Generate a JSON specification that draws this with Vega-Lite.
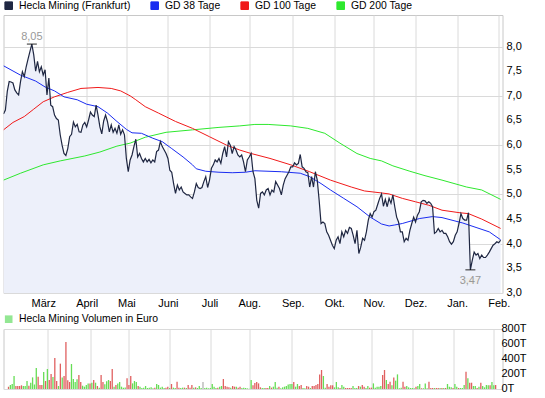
{
  "$schema": "https://vega.github.io/schema/vega-lite/v6.json",
  "padding": {"left": 2.5, "top": 0, "right": 0, "bottom": 0},
  "autosize": {"type": "pad"},
  "bounds": "flush",
  "spacing": 36,
  "datasets": {
    "price": [{"i":-1,"v":6.63},{"i":0,"v":6.71},{"i":1,"v":7.09},{"i":2,"v":7.29},{"i":3,"v":7.28},{"i":4,"v":7.26},{"i":5,"v":7.12},{"i":6,"v":7.06},{"i":7,"v":7.02},{"i":8,"v":7.29},{"i":9,"v":7.49},{"i":10,"v":7.39},{"i":11,"v":7.59},{"i":12,"v":7.75},{"i":13,"v":7.9},{"i":14,"v":8.05},{"i":15,"v":7.83},{"i":16,"v":7.5},{"i":17,"v":7.7},{"i":18,"v":7.49},{"i":19,"v":7.59},{"i":20,"v":7.42},{"i":21,"v":7.53},{"i":22,"v":7.02},{"i":23,"v":7.36},{"i":24,"v":6.81},{"i":25,"v":6.78},{"i":26,"v":6.61},{"i":27,"v":6.54},{"i":28,"v":6.51},{"i":29,"v":6.21},{"i":30,"v":6.0},{"i":31,"v":5.83},{"i":32,"v":5.79},{"i":33,"v":5.93},{"i":34,"v":6.17},{"i":35,"v":6.22},{"i":36,"v":6.47},{"i":37,"v":6.37},{"i":38,"v":6.42},{"i":39,"v":6.27},{"i":40,"v":6.26},{"i":41,"v":6.41},{"i":42,"v":6.46},{"i":43,"v":6.37},{"i":44,"v":6.51},{"i":45,"v":6.67},{"i":46,"v":6.61},{"i":47,"v":6.58},{"i":48,"v":6.81},{"i":49,"v":6.61},{"i":50,"v":6.37},{"i":51,"v":6.23},{"i":52,"v":6.49},{"i":53,"v":6.61},{"i":54,"v":6.48},{"i":55,"v":6.27},{"i":56,"v":6.41},{"i":57,"v":6.26},{"i":58,"v":6.34},{"i":59,"v":6.24},{"i":60,"v":6.41},{"i":61,"v":6.22},{"i":62,"v":6.31},{"i":63,"v":6.21},{"i":64,"v":5.73},{"i":65,"v":5.46},{"i":66,"v":5.7},{"i":67,"v":5.8},{"i":68,"v":5.97},{"i":69,"v":6.12},{"i":70,"v":5.76},{"i":71,"v":5.83},{"i":72,"v":5.73},{"i":73,"v":5.66},{"i":74,"v":5.73},{"i":75,"v":5.66},{"i":76,"v":5.71},{"i":77,"v":5.64},{"i":78,"v":5.7},{"i":79,"v":5.66},{"i":80,"v":5.87},{"i":81,"v":5.9},{"i":82,"v":6.07},{"i":83,"v":5.97},{"i":84,"v":5.9},{"i":85,"v":5.83},{"i":86,"v":5.73},{"i":87,"v":5.49},{"i":88,"v":5.45},{"i":89,"v":5.22},{"i":90,"v":5.02},{"i":91,"v":5.19},{"i":92,"v":5.09},{"i":93,"v":5.15},{"i":94,"v":5.05},{"i":95,"v":5.02},{"i":96,"v":4.99},{"i":97,"v":4.99},{"i":98,"v":4.95},{"i":99,"v":4.92},{"i":100,"v":5.05},{"i":101,"v":5.22},{"i":102,"v":5.14},{"i":103,"v":5.12},{"i":104,"v":5.14},{"i":105,"v":5.26},{"i":106,"v":5.36},{"i":107,"v":5.14},{"i":108,"v":5.29},{"i":109,"v":5.53},{"i":110,"v":5.6},{"i":111,"v":5.7},{"i":112,"v":5.66},{"i":113,"v":5.73},{"i":114,"v":5.63},{"i":115,"v":5.83},{"i":116,"v":5.97},{"i":117,"v":5.76},{"i":118,"v":6.07},{"i":119,"v":6.0},{"i":120,"v":5.83},{"i":121,"v":5.97},{"i":122,"v":5.9},{"i":123,"v":5.8},{"i":124,"v":5.76},{"i":125,"v":5.8},{"i":126,"v":5.66},{"i":127,"v":5.46},{"i":128,"v":5.7},{"i":129,"v":5.76},{"i":130,"v":5.83},{"i":131,"v":5.46},{"i":132,"v":5.32},{"i":133,"v":4.88},{"i":134,"v":4.72},{"i":135,"v":5.02},{"i":136,"v":5.05},{"i":137,"v":4.99},{"i":138,"v":5.09},{"i":139,"v":5.12},{"i":140,"v":4.99},{"i":141,"v":5.09},{"i":142,"v":5.05},{"i":143,"v":5.26},{"i":144,"v":5.19},{"i":145,"v":5.12},{"i":146,"v":4.99},{"i":147,"v":5.19},{"i":148,"v":5.32},{"i":149,"v":5.39},{"i":150,"v":5.46},{"i":151,"v":5.56},{"i":152,"v":5.56},{"i":153,"v":5.64},{"i":154,"v":5.6},{"i":155,"v":5.63},{"i":156,"v":5.81},{"i":157,"v":5.56},{"i":158,"v":5.53},{"i":159,"v":5.46},{"i":160,"v":5.44},{"i":161,"v":5.15},{"i":162,"v":5.36},{"i":163,"v":5.15},{"i":164,"v":5.46},{"i":165,"v":5.29},{"i":166,"v":4.88},{"i":167,"v":4.41},{"i":168,"v":4.44},{"i":169,"v":4.41},{"i":170,"v":4.24},{"i":171,"v":4.17},{"i":172,"v":4.07},{"i":173,"v":3.97},{"i":174,"v":3.9},{"i":175,"v":4.07},{"i":176,"v":4.14},{"i":177,"v":4.0},{"i":178,"v":4.24},{"i":179,"v":4.14},{"i":180,"v":4.27},{"i":181,"v":4.21},{"i":182,"v":4.33},{"i":183,"v":4.31},{"i":184,"v":4.17},{"i":185,"v":4.0},{"i":186,"v":4.27},{"i":187,"v":3.8},{"i":188,"v":3.93},{"i":189,"v":4.11},{"i":190,"v":4.07},{"i":191,"v":4.24},{"i":192,"v":4.48},{"i":193,"v":4.61},{"i":194,"v":4.54},{"i":195,"v":4.65},{"i":196,"v":4.68},{"i":197,"v":4.8},{"i":198,"v":4.92},{"i":199,"v":5.01},{"i":200,"v":4.76},{"i":201,"v":4.9},{"i":202,"v":4.75},{"i":203,"v":4.92},{"i":204,"v":4.82},{"i":205,"v":4.99},{"i":206,"v":4.75},{"i":207,"v":4.54},{"i":208,"v":4.44},{"i":209,"v":4.24},{"i":210,"v":4.24},{"i":211,"v":4.04},{"i":212,"v":4.11},{"i":213,"v":4.07},{"i":214,"v":4.27},{"i":215,"v":4.41},{"i":216,"v":4.54},{"i":217,"v":4.44},{"i":218,"v":4.58},{"i":219,"v":4.65},{"i":220,"v":4.85},{"i":221,"v":4.88},{"i":222,"v":4.87},{"i":223,"v":4.82},{"i":224,"v":4.85},{"i":225,"v":4.82},{"i":226,"v":4.75},{"i":227,"v":4.21},{"i":228,"v":4.24},{"i":229,"v":4.31},{"i":230,"v":4.24},{"i":231,"v":4.27},{"i":232,"v":4.21},{"i":233,"v":4.21},{"i":234,"v":4.14},{"i":235,"v":4.04},{"i":236,"v":3.99},{"i":237,"v":4.04},{"i":238,"v":4.17},{"i":239,"v":4.24},{"i":240,"v":4.41},{"i":241,"v":4.61},{"i":242,"v":4.51},{"i":243,"v":4.48},{"i":244,"v":4.48},{"i":245,"v":4.63},{"i":246,"v":3.47},{"i":247,"v":3.66},{"i":248,"v":3.83},{"i":249,"v":3.77},{"i":250,"v":3.8},{"i":251,"v":3.7},{"i":252,"v":3.77},{"i":253,"v":3.72},{"i":254,"v":3.72},{"i":255,"v":3.77},{"i":256,"v":3.83},{"i":257,"v":3.9},{"i":258,"v":3.97},{"i":259,"v":4.0},{"i":260,"v":4.04},{"i":261,"v":4.02},{"i":262,"v":4.07}],
    "g38": [{"i":-1,"v":7.61},{"i":8,"v":7.42},{"i":16,"v":7.3},{"i":21,"v":7.18},{"i":26,"v":7.1},{"i":31,"v":6.98},{"i":38,"v":6.92},{"i":43,"v":6.83},{"i":49,"v":6.78},{"i":54,"v":6.65},{"i":59,"v":6.48},{"i":64,"v":6.32},{"i":67,"v":6.25},{"i":72,"v":6.24},{"i":78,"v":6.14},{"i":83,"v":6.07},{"i":88,"v":5.93},{"i":94,"v":5.76},{"i":99,"v":5.6},{"i":101,"v":5.52},{"i":106,"v":5.47},{"i":113,"v":5.45},{"i":120,"v":5.44},{"i":127,"v":5.45},{"i":132,"v":5.48},{"i":146,"v":5.46},{"i":156,"v":5.43},{"i":161,"v":5.36},{"i":167,"v":5.22},{"i":172,"v":5.09},{"i":179,"v":4.92},{"i":186,"v":4.75},{"i":193,"v":4.54},{"i":199,"v":4.4},{"i":203,"v":4.36},{"i":206,"v":4.38},{"i":210,"v":4.41},{"i":219,"v":4.51},{"i":226,"v":4.55},{"i":231,"v":4.53},{"i":242,"v":4.42},{"i":249,"v":4.33},{"i":256,"v":4.24},{"i":262,"v":4.08}],
    "g100": [{"i":-1,"v":6.31},{"i":4,"v":6.46},{"i":10,"v":6.58},{"i":15,"v":6.73},{"i":20,"v":6.88},{"i":26,"v":6.98},{"i":33,"v":7.07},{"i":40,"v":7.15},{"i":49,"v":7.17},{"i":56,"v":7.15},{"i":61,"v":7.1},{"i":66,"v":7.0},{"i":69,"v":6.92},{"i":74,"v":6.78},{"i":81,"v":6.65},{"i":90,"v":6.48},{"i":99,"v":6.34},{"i":108,"v":6.17},{"i":117,"v":6.0},{"i":124,"v":5.9},{"i":130,"v":5.83},{"i":140,"v":5.73},{"i":151,"v":5.6},{"i":161,"v":5.46},{"i":172,"v":5.29},{"i":183,"v":5.15},{"i":190,"v":5.07},{"i":199,"v":5.03},{"i":203,"v":5.01},{"i":210,"v":4.92},{"i":217,"v":4.85},{"i":224,"v":4.78},{"i":231,"v":4.68},{"i":240,"v":4.63},{"i":245,"v":4.61},{"i":252,"v":4.5},{"i":262,"v":4.31}],
    "g200": [{"i":-1,"v":5.29},{"i":8,"v":5.43},{"i":20,"v":5.6},{"i":29,"v":5.68},{"i":42,"v":5.78},{"i":50,"v":5.86},{"i":59,"v":5.98},{"i":66,"v":6.04},{"i":74,"v":6.16},{"i":85,"v":6.26},{"i":99,"v":6.31},{"i":113,"v":6.36},{"i":124,"v":6.39},{"i":132,"v":6.42},{"i":139,"v":6.42},{"i":151,"v":6.39},{"i":160,"v":6.34},{"i":169,"v":6.24},{"i":177,"v":6.04},{"i":186,"v":5.83},{"i":193,"v":5.73},{"i":199,"v":5.68},{"i":205,"v":5.58},{"i":214,"v":5.47},{"i":222,"v":5.38},{"i":231,"v":5.29},{"i":244,"v":5.15},{"i":252,"v":5.09},{"i":262,"v":4.9}],
    "vol": [{"i":-1,"q":31,"d":"r"},{"i":0,"q":53,"d":"g"},{"i":1,"q":67,"d":"g"},{"i":2,"q":173,"d":"g"},{"i":3,"q":40,"d":"r"},{"i":4,"q":40,"d":"r"},{"i":5,"q":40,"d":"r"},{"i":6,"q":49,"d":"r"},{"i":7,"q":40,"d":"g"},{"i":8,"q":40,"d":"g"},{"i":9,"q":107,"d":"g"},{"i":10,"q":44,"d":"r"},{"i":11,"q":84,"d":"g"},{"i":12,"q":155,"d":"g"},{"i":13,"q":60,"d":"g"},{"i":14,"q":280,"d":"g"},{"i":15,"q":164,"d":"r"},{"i":16,"q":53,"d":"r"},{"i":17,"q":53,"d":"r"},{"i":18,"q":227,"d":"g"},{"i":19,"q":107,"d":"r"},{"i":20,"q":267,"d":"g"},{"i":21,"q":120,"d":"r"},{"i":22,"q":200,"d":"r"},{"i":23,"q":160,"d":"g"},{"i":24,"q":413,"d":"r"},{"i":25,"q":107,"d":"r"},{"i":26,"q":40,"d":"g"},{"i":27,"q":338,"d":"r"},{"i":28,"q":155,"d":"g"},{"i":29,"q":173,"d":"r"},{"i":30,"q":627,"d":"r"},{"i":31,"q":116,"d":"r"},{"i":32,"q":93,"d":"r"},{"i":33,"q":333,"d":"g"},{"i":34,"q":133,"d":"g"},{"i":35,"q":93,"d":"g"},{"i":36,"q":129,"d":"g"},{"i":37,"q":187,"d":"r"},{"i":38,"q":93,"d":"r"},{"i":39,"q":44,"d":"g"},{"i":40,"q":31,"d":"g"},{"i":41,"q":53,"d":"g"},{"i":42,"q":75,"d":"g"},{"i":43,"q":75,"d":"r"},{"i":44,"q":84,"d":"g"},{"i":45,"q":120,"d":"r"},{"i":46,"q":84,"d":"g"},{"i":47,"q":40,"d":"r"},{"i":48,"q":18,"d":"g"},{"i":49,"q":187,"d":"r"},{"i":50,"q":93,"d":"r"},{"i":51,"q":62,"d":"g"},{"i":52,"q":102,"d":"g"},{"i":53,"q":120,"d":"g"},{"i":54,"q":107,"d":"r"},{"i":55,"q":267,"d":"r"},{"i":56,"q":31,"d":"g"},{"i":57,"q":53,"d":"r"},{"i":58,"q":75,"d":"g"},{"i":59,"q":93,"d":"g"},{"i":60,"q":31,"d":"g"},{"i":61,"q":18,"d":"g"},{"i":62,"q":20,"d":"g"},{"i":63,"q":142,"d":"r"},{"i":64,"q":53,"d":"r"},{"i":65,"q":173,"d":"r"},{"i":66,"q":75,"d":"g"},{"i":67,"q":107,"d":"g"},{"i":68,"q":93,"d":"g"},{"i":69,"q":40,"d":"r"},{"i":70,"q":31,"d":"g"},{"i":71,"q":13,"d":"g"},{"i":72,"q":18,"d":"g"},{"i":73,"q":40,"d":"g"},{"i":74,"q":13,"d":"g"},{"i":75,"q":18,"d":"g"},{"i":76,"q":22,"d":"g"},{"i":77,"q":9,"d":"g"},{"i":78,"q":18,"d":"r"},{"i":79,"q":67,"d":"g"},{"i":80,"q":53,"d":"g"},{"i":81,"q":18,"d":"g"},{"i":82,"q":31,"d":"g"},{"i":83,"q":13,"d":"g"},{"i":84,"q":18,"d":"r"},{"i":85,"q":31,"d":"r"},{"i":86,"q":13,"d":"g"},{"i":87,"q":67,"d":"r"},{"i":88,"q":18,"d":"g"},{"i":89,"q":13,"d":"g"},{"i":90,"q":98,"d":"r"},{"i":91,"q":18,"d":"r"},{"i":92,"q":13,"d":"g"},{"i":93,"q":18,"d":"g"},{"i":94,"q":18,"d":"r"},{"i":95,"q":13,"d":"g"},{"i":96,"q":53,"d":"r"},{"i":97,"q":18,"d":"r"},{"i":98,"q":53,"d":"r"},{"i":99,"q":18,"d":"g"},{"i":100,"q":22,"d":"r"},{"i":101,"q":13,"d":"g"},{"i":102,"q":40,"d":"g"},{"i":103,"q":13,"d":"g"},{"i":104,"q":93,"d":"f"},{"i":105,"q":13,"d":"g"},{"i":106,"q":18,"d":"g"},{"i":107,"q":9,"d":"g"},{"i":108,"q":13,"d":"g"},{"i":109,"q":67,"d":"g"},{"i":110,"q":31,"d":"g"},{"i":111,"q":13,"d":"g"},{"i":112,"q":18,"d":"r"},{"i":113,"q":31,"d":"g"},{"i":114,"q":40,"d":"g"},{"i":115,"q":133,"d":"r"},{"i":116,"q":40,"d":"r"},{"i":117,"q":31,"d":"r"},{"i":118,"q":22,"d":"r"},{"i":119,"q":18,"d":"g"},{"i":120,"q":40,"d":"r"},{"i":121,"q":31,"d":"r"},{"i":122,"q":31,"d":"g"},{"i":123,"q":18,"d":"r"},{"i":124,"q":31,"d":"r"},{"i":125,"q":13,"d":"g"},{"i":126,"q":18,"d":"g"},{"i":127,"q":13,"d":"g"},{"i":128,"q":8,"d":"g"},{"i":129,"q":5,"d":"g"},{"i":130,"q":120,"d":"g"},{"i":131,"q":49,"d":"r"},{"i":132,"q":80,"d":"r"},{"i":133,"q":93,"d":"r"},{"i":134,"q":75,"d":"r"},{"i":135,"q":22,"d":"r"},{"i":136,"q":13,"d":"g"},{"i":137,"q":13,"d":"g"},{"i":138,"q":13,"d":"r"},{"i":139,"q":13,"d":"r"},{"i":140,"q":40,"d":"g"},{"i":141,"q":18,"d":"r"},{"i":142,"q":31,"d":"g"},{"i":143,"q":93,"d":"g"},{"i":144,"q":18,"d":"g"},{"i":145,"q":31,"d":"r"},{"i":146,"q":9,"d":"g"},{"i":147,"q":22,"d":"g"},{"i":148,"q":31,"d":"g"},{"i":149,"q":40,"d":"g"},{"i":150,"q":60,"d":"g"},{"i":151,"q":67,"d":"g"},{"i":152,"q":67,"d":"g"},{"i":153,"q":93,"d":"r"},{"i":154,"q":31,"d":"g"},{"i":155,"q":67,"d":"g"},{"i":156,"q":40,"d":"r"},{"i":157,"q":53,"d":"r"},{"i":158,"q":13,"d":"g"},{"i":159,"q":10,"d":"g"},{"i":160,"q":40,"d":"r"},{"i":161,"q":31,"d":"r"},{"i":162,"q":13,"d":"g"},{"i":163,"q":40,"d":"r"},{"i":164,"q":40,"d":"r"},{"i":165,"q":53,"d":"r"},{"i":166,"q":67,"d":"r"},{"i":167,"q":195,"d":"r"},{"i":168,"q":253,"d":"r"},{"i":169,"q":173,"d":"g"},{"i":170,"q":18,"d":"g"},{"i":171,"q":67,"d":"r"},{"i":172,"q":31,"d":"r"},{"i":173,"q":49,"d":"r"},{"i":174,"q":49,"d":"r"},{"i":175,"q":22,"d":"g"},{"i":176,"q":93,"d":"g"},{"i":177,"q":22,"d":"g"},{"i":178,"q":13,"d":"r"},{"i":179,"q":53,"d":"g"},{"i":180,"q":31,"d":"g"},{"i":181,"q":13,"d":"r"},{"i":182,"q":13,"d":"r"},{"i":183,"q":13,"d":"r"},{"i":184,"q":13,"d":"r"},{"i":185,"q":40,"d":"g"},{"i":186,"q":13,"d":"g"},{"i":187,"q":13,"d":"g"},{"i":188,"q":40,"d":"r"},{"i":189,"q":31,"d":"g"},{"i":190,"q":53,"d":"r"},{"i":191,"q":31,"d":"r"},{"i":192,"q":13,"d":"g"},{"i":193,"q":40,"d":"g"},{"i":194,"q":18,"d":"r"},{"i":195,"q":18,"d":"r"},{"i":196,"q":75,"d":"g"},{"i":197,"q":18,"d":"g"},{"i":198,"q":31,"d":"g"},{"i":199,"q":31,"d":"g"},{"i":200,"q":40,"d":"g"},{"i":201,"q":187,"d":"r"},{"i":202,"q":253,"d":"r"},{"i":203,"q":120,"d":"g"},{"i":204,"q":67,"d":"r"},{"i":205,"q":98,"d":"r"},{"i":206,"q":49,"d":"g"},{"i":207,"q":155,"d":"r"},{"i":208,"q":111,"d":"g"},{"i":209,"q":195,"d":"g"},{"i":210,"q":10,"d":"g"},{"i":211,"q":18,"d":"g"},{"i":212,"q":98,"d":"r"},{"i":213,"q":31,"d":"r"},{"i":214,"q":40,"d":"g"},{"i":215,"q":22,"d":"g"},{"i":216,"q":13,"d":"g"},{"i":217,"q":13,"d":"g"},{"i":218,"q":10,"d":"g"},{"i":219,"q":31,"d":"r"},{"i":220,"q":40,"d":"g"},{"i":221,"q":67,"d":"g"},{"i":222,"q":10,"d":"r"},{"i":223,"q":10,"d":"g"},{"i":224,"q":75,"d":"g"},{"i":225,"q":10,"d":"g"},{"i":226,"q":98,"d":"r"},{"i":227,"q":13,"d":"r"},{"i":228,"q":13,"d":"r"},{"i":229,"q":13,"d":"g"},{"i":230,"q":13,"d":"r"},{"i":231,"q":13,"d":"r"},{"i":232,"q":13,"d":"g"},{"i":233,"q":13,"d":"r"},{"i":234,"q":13,"d":"g"},{"i":235,"q":13,"d":"r"},{"i":236,"q":67,"d":"g"},{"i":237,"q":31,"d":"g"},{"i":238,"q":22,"d":"g"},{"i":239,"q":13,"d":"r"},{"i":240,"q":67,"d":"g"},{"i":241,"q":31,"d":"g"},{"i":242,"q":13,"d":"r"},{"i":243,"q":13,"d":"g"},{"i":244,"q":13,"d":"g"},{"i":245,"q":53,"d":"g"},{"i":246,"q":231,"d":"r"},{"i":247,"q":142,"d":"g"},{"i":248,"q":84,"d":"r"},{"i":249,"q":84,"d":"r"},{"i":250,"q":40,"d":"g"},{"i":251,"q":40,"d":"g"},{"i":252,"q":13,"d":"r"},{"i":253,"q":31,"d":"g"},{"i":254,"q":84,"d":"r"},{"i":255,"q":40,"d":"g"},{"i":256,"q":22,"d":"g"},{"i":257,"q":53,"d":"g"},{"i":258,"q":49,"d":"g"},{"i":259,"q":49,"d":"r"},{"i":260,"q":93,"d":"g"},{"i":261,"q":49,"d":"g"},{"i":262,"q":53,"d":"r"}],
    "hi": [{"i":14,"v":8.05,"t":"8,05"}],
    "lo": [{"i":246,"v":3.47,"t":"3,47"}],
    "vleg": [{"i":0,"q":-100,"s":"Hecla Mining Volumen in Euro"}],
    "ylab": [{"v":3,"l":"3,0"},{"v":3.5,"l":"3,5"},{"v":4,"l":"4,0"},{"v":4.5,"l":"4,5"},{"v":5,"l":"5,0"},{"v":5.5,"l":"5,5"},{"v":6,"l":"6,0"},{"v":6.5,"l":"6,5"},{"v":7,"l":"7,0"},{"v":7.5,"l":"7,5"},{"v":8,"l":"8,0"}],
    "qlab": [{"q":0,"l":"0T"},{"q":200,"l":"200T"},{"q":400,"l":"400T"},{"q":600,"l":"600T"},{"q":800,"l":"800T"}]
  },
  "vconcat": [
    {
      "width": 499,
      "height": 278,
      "layer": [
        {
          "data": {"name": "price"},
          "mark": {"type": "area", "color": "#edf0fa", "clip": true},
          "encoding": {
            "x": {"field": "i", "type": "quantitative", "scale": {"domain": [-1, 263], "nice": false, "zero": false},
              "axis": {"title": null, "values": [20,43,64,86,108,129,152,174,195,217,239,261], "grid": true, "labelPadding": 4, "labelOverlap": false,
                "labelExpr": "['März','April','Mai','Juni','Juli','Aug.','Sep.','Okt.','Nov.','Dez.','Jan.','Feb.'][indexof([20,43,64,86,108,129,152,174,195,217,239,261], datum.value)]"}},
            "y": {"field": "v", "type": "quantitative", "scale": {"domain": [3, 8.64], "nice": false, "zero": false},
              "axis": {"title": null, "orient": "right", "values": [3,3.5,4,4.5,5,5.5,6,6.5,7,7.5,8], "grid": true, "labels": false}}
          }
        },
        {
          "data": {"name": "ylab"},
          "mark": {"type": "text", "align": "left", "baseline": "middle", "dx": 4, "fontSize": 11, "color": "#000000", "clip": false},
          "encoding": {
            "x": {"datum": 263, "type": "quantitative"},
            "y": {"field": "v", "type": "quantitative"},
            "text": {"field": "l"}
          }
        },
        {
          "data": {"name": "g200"},
          "mark": {"type": "line", "strokeWidth": 1, "clip": true},
          "encoding": {
            "x": {"field": "i", "type": "quantitative"},
            "y": {"field": "v", "type": "quantitative"},
            "color": {"datum": "GD 200 Tage", "type": "nominal",
              "scale": {"domain": ["Hecla Mining (Frankfurt)", "GD 38 Tage", "GD 100 Tage", "GD 200 Tage"], "range": ["#1f2742", "#1a2cf0", "#f01a1a", "#2ee82e"]},
              "legend": {"orient": "none", "legendX": 0, "legendY": -15, "direction": "horizontal", "title": null,
                "symbolType": "square", "symbolSize": 58, "labelFontSize": 10.4, "labelOffset": 5, "columnPadding": 18,
                "encode": {"symbols": {"update": {"fill": {"scale": "color", "field": "value"}, "stroke": {"value": "#222222"}, "strokeWidth": {"value": 1}, "opacity": {"value": 1}}}}}}
          }
        },
        {
          "data": {"name": "g100"},
          "mark": {"type": "line", "strokeWidth": 1, "clip": true},
          "encoding": {
            "x": {"field": "i", "type": "quantitative"},
            "y": {"field": "v", "type": "quantitative"},
            "color": {"datum": "GD 100 Tage", "type": "nominal"}
          }
        },
        {
          "data": {"name": "g38"},
          "mark": {"type": "line", "strokeWidth": 1, "clip": true},
          "encoding": {
            "x": {"field": "i", "type": "quantitative"},
            "y": {"field": "v", "type": "quantitative"},
            "color": {"datum": "GD 38 Tage", "type": "nominal"}
          }
        },
        {
          "data": {"name": "price"},
          "mark": {"type": "line", "strokeWidth": 1.2, "clip": true},
          "encoding": {
            "x": {"field": "i", "type": "quantitative"},
            "y": {"field": "v", "type": "quantitative"},
            "color": {"datum": "Hecla Mining (Frankfurt)", "type": "nominal"}
          }
        },
        {
          "data": {"name": "hi"},
          "mark": {"type": "tick", "orient": "horizontal", "size": 10, "thickness": 1.2, "color": "#000000"},
          "encoding": {"x": {"field": "i", "type": "quantitative"}, "y": {"field": "v", "type": "quantitative"}}
        },
        {
          "data": {"name": "hi"},
          "mark": {"type": "text", "dy": -7, "fontSize": 11, "color": "#999999"},
          "encoding": {"x": {"field": "i", "type": "quantitative"}, "y": {"field": "v", "type": "quantitative"}, "text": {"field": "t"}}
        },
        {
          "data": {"name": "lo"},
          "mark": {"type": "point", "shape": "M-1.45,-0.55H1.45V0.55H-1.45Z", "size": 100, "filled": true, "opacity": 1, "color": "#ececec", "strokeWidth": 0, "yOffset": 11},
          "encoding": {"x": {"field": "i", "type": "quantitative"}, "y": {"field": "v", "type": "quantitative"}}
        },
        {
          "data": {"name": "lo"},
          "mark": {"type": "tick", "orient": "horizontal", "size": 10, "thickness": 1.2, "color": "#000000"},
          "encoding": {"x": {"field": "i", "type": "quantitative"}, "y": {"field": "v", "type": "quantitative"}}
        },
        {
          "data": {"name": "lo"},
          "mark": {"type": "text", "dy": 11, "fontSize": 11, "color": "#999999"},
          "encoding": {"x": {"field": "i", "type": "quantitative"}, "y": {"field": "v", "type": "quantitative"}, "text": {"field": "t"}}
        }
      ]
    },
    {
      "width": 499,
      "height": 60,
      "layer": [
        {
          "data": {"name": "vol"},
          "mark": {"type": "bar", "orient": "vertical", "size": 1.3},
          "encoding": {
            "x": {"field": "i", "type": "quantitative", "scale": {"domain": [-1, 263], "nice": false, "zero": false},
              "axis": {"title": null, "values": [20,43,64,86,108,129,152,174,195,217,239,261], "grid": true, "labels": false}},
            "y": {"field": "q", "type": "quantitative", "scale": {"domain": [0, 800], "nice": false},
              "axis": {"title": null, "orient": "right", "values": [0,200,400,600,800], "grid": true, "labels": false}},
            "fill": {"field": "d", "type": "nominal", "scale": {"domain": ["g", "r", "f"], "range": ["#66dd55", "#e06060", "#b4b4b4"]}, "legend": null}
          }
        },
        {
          "data": {"name": "qlab"},
          "mark": {"type": "text", "align": "left", "baseline": "middle", "dx": 4, "fontSize": 11, "color": "#000000", "clip": false},
          "encoding": {
            "x": {"datum": 263, "type": "quantitative"},
            "y": {"field": "q", "type": "quantitative"},
            "text": {"field": "l"}
          }
        },
        {
          "data": {"name": "vleg"},
          "mark": {"type": "point", "filled": true, "color": "#66dd66", "size": 50, "clip": true},
          "encoding": {
            "x": {"field": "i", "type": "quantitative"},
            "y": {"field": "q", "type": "quantitative"},
            "shape": {"field": "s", "type": "nominal", "scale": {"range": ["square"]},
              "legend": {"orient": "none", "legendX": 0, "legendY": 299, "title": null, "symbolSize": 58, "labelFontSize": 10.4, "labelOffset": 5,
                "symbolFillColor": "#66dd66", "symbolStrokeColor": "#222222", "symbolStrokeWidth": 1,
                "encode": {"symbols": {"update": {"fill": {"value": "#66dd66"}, "stroke": {"value": "#222222"}, "strokeWidth": {"value": 1}}}}}}
          }
        }
      ]
    }
  ],
  "config": {
    "font": "Liberation Sans",
    "view": {"stroke": "#c8c8c8"},
    "axis": {"domain": false, "ticks": false, "gridColor": "#dadada", "gridWidth": 1, "labelFont": "Liberation Sans", "labelFontSize": 11, "labelColor": "#000000"},
    "legend": {"labelFont": "Liberation Sans", "labelColor": "#000000"},
    "text": {"font": "Liberation Sans"}
  }
}
